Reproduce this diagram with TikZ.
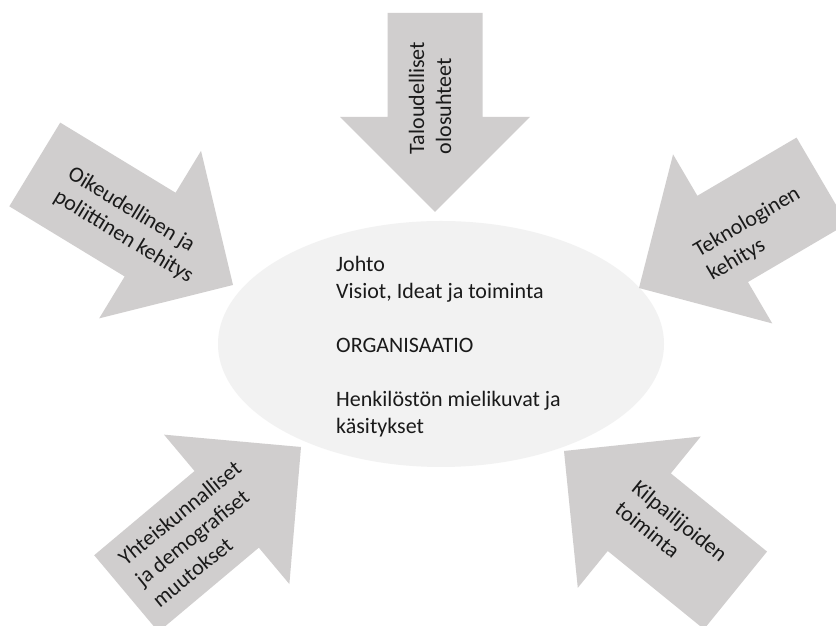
\documentclass[tikz,border=0pt]{standalone}
\usepackage{fontspec}
\setmainfont{Carlito}
\definecolor{arrowgray}{HTML}{D0CECE}
\definecolor{ellgray}{HTML}{F2F2F2}
\definecolor{txt}{HTML}{1A1A1A}
% tip x, tip y, angle, length, shaft width, head width, head length
\newcommand{\blockarr}[7]{%
  \begin{scope}[shift={(#1,#2)}, rotate=#3]
    \fill[arrowgray] (0,0) -- (-#7,#6/2) -- (-#7,#5/2) -- (-#4,#5/2)
      -- (-#4,-#5/2) -- (-#7,-#5/2) -- (-#7,-#6/2) -- cycle;
  \end{scope}}
\begin{document}
\begin{tikzpicture}[x=1pt,y=1pt,
  lbl/.style={font=\fontsize{22}{27}\selectfont, text=txt, align=left, inner sep=0pt}]
\useasboundingbox (0,0) rectangle (836,626);
\clip (0,0) rectangle (836,626);
\fill[white] (0,0) rectangle (836,626);
\fill[ellgray] (441,282) ellipse [x radius=223, y radius=123];
\blockarr{435}{414}{-90}{199}{95}{190}{95}
\blockarr{233}{341}{-31.3}{232}{98}{196}{97}
\blockarr{639}{338}{210.4}{212}{100}{196}{97}
\blockarr{301}{179}{40}{228}{100}{195}{97}
\blockarr{564}{175}{140.9}{221}{100}{195}{97}
\node[lbl, rotate=90] (top) at (430,528) {Taloudelliset\\olosuhteet};
\node[lbl, rotate=-31.3] (left) at (130.5,400.5) {Oikeudellinen ja\\poliittinen kehitys};
\node[lbl, rotate=30.4] (right) at (754,392) {Teknologinen\\kehitys};
\node[lbl, rotate=39] (bl) at (196.6,92.2) {Yhteiskunnalliset\\ja demografiset\\muutokset};
\node[lbl, rotate=-39] (br) at (671.5,94.5) {Kilpailijoiden\\toiminta};
\node[lbl, anchor=base west] (org) at (336,192) {Johto\\Visiot, Ideat ja toiminta\\[27pt]ORGANISAATIO\\[27pt]Henkilöstön mielikuvat ja\\käsitykset};
\end{tikzpicture}
\end{document}
